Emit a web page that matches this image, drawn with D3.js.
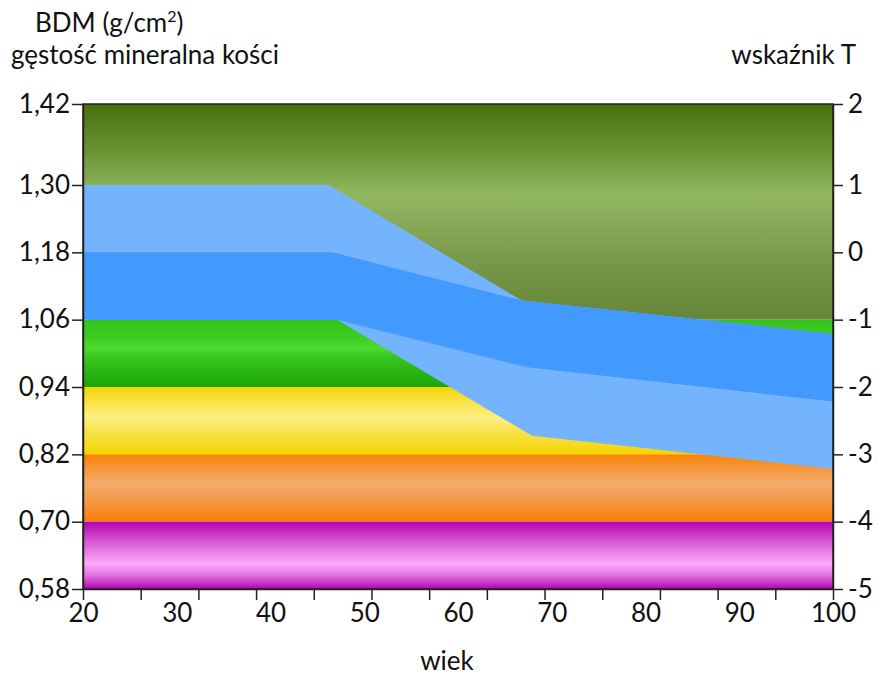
<!DOCTYPE html>
<html>
<head>
<meta charset="utf-8">
<script src="https://cdn.jsdelivr.net/npm/d3@7"></script>
<style>
  body { margin: 0; background: #fff; }
  svg { display: block; font-family: Lato, "Open Sans", sans-serif; }
</style>
</head>
<body>
<script>
// BMD reference bands (g/cm2), top to bottom
let bandTops = [1.42, 1.06, 0.94, 0.82, 0.70]
let bandBottoms = [1.06, 0.94, 0.82, 0.70, 0.58]
// age curves: [age, BMD]
let outerTop = [[20, 1.30], [46.2, 1.30], [66.8, 1.094], [100, 1.035]]
let outerBottom = [[20, 1.06], [47.1, 1.06], [67.9, 0.853], [100, 0.794]]
let innerTop = [[20, 1.18], [46.6, 1.18], [66.8, 1.094], [100, 1.035]]
let innerBottom = [[20, 1.06], [47.1, 1.06], [67.4, 0.975], [100, 0.914]]
// axes
let leftTicks = [0.58, 0.70, 0.82, 0.94, 1.06, 1.18, 1.30, 1.42]
let rightTicks = [-5, -4, -3, -2, -1, 0, 1, 2]
let ageLabels = [20, 30, 40, 50, 60, 70, 80, 90, 100]
let ageTickCount = 13

let w = 879, h = 675
let pLeft = 83, pRight = 833, pTop = 104, pBottom = 589

let svg = d3.select("body").append("svg").attr("width", w).attr("height", h)

let x = d3.scaleLinear().domain([20, 100]).range([pLeft, pRight])
// top interval is drawn taller than the others
let y = d3.scaleLinear().domain([0.58, 1.30, 1.42]).range([pBottom, 185, pTop])
let yT = d3.scaleLinear().domain([-5, 1, 2]).range([pBottom, 185, pTop])

let gradients = [
  [[0, "#47700c"], [0.2, "#68902e"], [0.42, "#92b762"], [0.7, "#7a9b4c"], [1, "#658538"]],
  [[0, "#33c31a"], [0.3, "#3fcf22"], [0.42, "#50dc32"], [0.55, "#38c71f"], [1, "#1ca508"]],
  [[0, "#f3d500"], [0.2, "#f7e240"], [0.45, "#fdef82"], [0.7, "#f7e142"], [1, "#f3d400"]],
  [[0, "#fb8200"], [0.2, "#f6963a"], [0.45, "#f2ac6d"], [0.75, "#f6953a"], [1, "#fb7e00"]],
  [[0, "#b200b2"], [0.3, "#d65ad4"], [0.62, "#fbaafa"], [0.8, "#e070e0"], [1, "#b500b5"]]
]
let defs = svg.append("defs")
gradients.forEach((stops, i) => {
  let g = defs.append("linearGradient").attr("id", "band" + i)
    .attr("x1", 0).attr("y1", 0).attr("x2", 0).attr("y2", 1)
  stops.forEach(s => g.append("stop").attr("offset", s[0]).attr("stop-color", s[1]))
})

svg.selectAll("rect.band")
  .data(bandTops)
  .enter()
  .append("rect")
  .attr("class", "band")
  .attr("x", pLeft)
  .attr("width", pRight - pLeft)
  .attr("y", d => y(d))
  .attr("height", (d, i) => y(bandBottoms[i]) - y(d))
  .attr("fill", (d, i) => "url(#band" + i + ")")

let line = d3.line().x(d => x(d[0])).y(d => y(d[1]))
let shape = (a, b) => line(a.concat(b.slice().reverse())) + "Z"

svg.append("path").attr("d", shape(outerTop, outerBottom)).attr("fill", "#74b3fd")
svg.append("path").attr("d", shape(innerTop, innerBottom)).attr("fill", "#4299fe")

// frame
svg.append("rect")
  .attr("x", pLeft).attr("y", pTop)
  .attr("width", pRight - pLeft).attr("height", pBottom - pTop)
  .attr("fill", "none").attr("stroke", "#222").attr("stroke-width", 1.5)

let fmt = d => d3.format(".2f")(d).replace(".", ",")

let yAxis = svg.append("g")
  .attr("transform", "translate(" + pLeft + ",0)")
  .call(d3.axisLeft(y).tickValues(leftTicks).tickFormat(fmt).tickSize(11).tickPadding(2).tickSizeOuter(0))
let yAxisR = svg.append("g")
  .attr("transform", "translate(" + pRight + ",0)")
  .call(d3.axisRight(yT).tickValues(rightTicks).tickFormat(d => String(d)).tickSize(10).tickPadding(5).tickSizeOuter(0))
let xTicks = svg.append("g")
  .attr("transform", "translate(0," + pBottom + ")")
  .call(d3.axisBottom(x).tickValues(d3.range(ageTickCount + 1).map(k => 20 + k * 80 / ageTickCount)).tickFormat("").tickSize(11).tickSizeOuter(0))
let xLabels = svg.append("g")
  .attr("transform", "translate(0," + pBottom + ")")
  .call(d3.axisBottom(x).tickValues(ageLabels).tickSize(0).tickPadding(15))

;[yAxis, yAxisR, xTicks, xLabels].forEach(g => {
  g.select(".domain").attr("stroke", "#222").attr("stroke-width", 1.5)
  g.selectAll(".tick line").attr("stroke", "#222").attr("stroke-width", 1.5)
  g.selectAll("text").attr("font-size", 26).attr("fill", "#111").attr("font-family", "Lato, sans-serif")
})
xLabels.select(".domain").remove()

let titles = [
  { t: "BDM (g/cm", x: 35, y: 32, anchor: "start" },
  { t: "gęstość mineralna kości", x: 11, y: 64, anchor: "start" },
  { t: "wskaźnik T", x: 856, y: 64, anchor: "end" },
  { t: "wiek", x: 447, y: 670, anchor: "middle" }
]
let tt = svg.selectAll("text.title")
  .data(titles)
  .enter()
  .append("text")
  .attr("class", "title")
  .attr("x", d => d.x).attr("y", d => d.y)
  .attr("text-anchor", d => d.anchor)
  .attr("font-size", 26)
  .attr("fill", "#111")
  .text(d => d.t)
tt.filter((d, i) => i === 0).append("tspan").attr("font-size", 16).attr("dy", -10).text("2")
tt.filter((d, i) => i === 0).append("tspan").attr("dy", 10).text(")")
</script>
</body>
</html>
